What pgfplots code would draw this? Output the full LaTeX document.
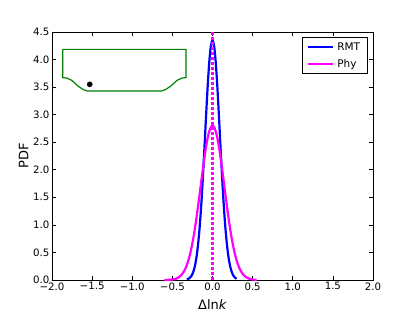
\documentclass[border=0pt]{standalone}
\usepackage{pgfplots}
\pgfplotsset{compat=1.18}
\usepackage{fontspec}
\setmainfont{DejaVu Sans}
\definecolor{mplgreen}{rgb}{0,0.5,0}
\definecolor{mplmag}{rgb}{1,0,1}
\definecolor{mplblue}{rgb}{0,0,1}
\begin{document}
\begin{tikzpicture}[x=1pt,y=1pt]
\path[use as bounding box] (-52,-32) rectangle (363,280);
\begin{axis}[
  at={(0,0)}, anchor=south west,
  scale only axis, width=321pt, height=248pt,
  xmin=-2, xmax=2, ymin=0, ymax=4.5,
  axis line style={line width=0.8pt},
  tick style={black, line width=0.6pt},
  major tick length=4pt,
  tick align=inside,
  xtick pos=both, ytick pos=both,
  xtick={-2,-1.5,-1,-0.5,0,0.5,1,1.5,2},
  xticklabels={−2.0,−1.5,−1.0,−0.5,0.0,0.5,1.0,1.5,2.0},
  ytick={0,0.5,1,1.5,2,2.5,3,3.5,4,4.5},
  yticklabels={0.0,0.5,1.0,1.5,2.0,2.5,3.0,3.5,4.0,4.5},
  ticklabel style={font=\fontsize{10.2}{12}\selectfont},
  xticklabel style={yshift=1pt},
  yticklabel style={xshift=1pt},
  xlabel={\fontsize{13}{15}\selectfont Δln\textit{k}},
  ylabel={\fontsize{13}{15}\selectfont PDF},
  xlabel style={at={(0.5,0)}, anchor=north, yshift=-16pt},
  ylabel style={at={(0,0.5)}, anchor=south, yshift=20pt},
  legend style={at={(1,1)}, anchor=north east, xshift=-5pt, yshift=-5pt,
    draw=black, line width=0.8pt, font=\fontsize{10.5}{12}\selectfont,
    inner xsep=4pt, inner ysep=3pt, row sep=3.5pt, rounded corners=0pt,
    nodes={inner xsep=3.5pt}},
  legend cell align=left,
  legend image code/.code={\draw[#1, line width=2.2pt] (0pt,0pt) -- (25pt,0pt);},
  clip=false,
]
\addplot[mplblue, line width=2.2pt, smooth] coordinates {
(-0.32,0.0103) (-0.30,0.0214) (-0.28,0.0424) (-0.26,0.0802) (-0.24,0.145) (-0.22,0.249)
(-0.20,0.409) (-0.18,0.642) (-0.16,0.959) (-0.14,1.367) (-0.12,1.858) (-0.10,2.410)
(-0.08,2.981) (-0.06,3.517) (-0.04,3.958) (-0.02,4.248) (0,4.35)
(0.02,4.248) (0.04,3.958) (0.06,3.517) (0.08,2.981) (0.10,2.410) (0.12,1.858)
(0.14,1.367) (0.16,0.959) (0.18,0.642) (0.20,0.409) (0.22,0.249) (0.24,0.145)
(0.26,0.0802) (0.28,0.0424) (0.30,0.0214)
};
\addlegendentry{RMT}
\addplot[mplmag, line width=2.2pt, smooth] coordinates {
(-0.60,0.0008) (-0.55,0.0028) (-0.50,0.0093) (-0.475,0.0162) (-0.45,0.0275) (-0.425,0.0454)
(-0.40,0.0726) (-0.375,0.113) (-0.35,0.171) (-0.325,0.251) (-0.30,0.359) (-0.275,0.498)
(-0.25,0.672) (-0.225,0.882) (-0.20,1.124) (-0.175,1.392) (-0.15,1.675) (-0.125,1.960)
(-0.10,2.229) (-0.075,2.463) (-0.05,2.645) (-0.025,2.760) (0,2.80)
(0.025,2.760) (0.05,2.645) (0.075,2.463) (0.10,2.229) (0.125,1.960) (0.15,1.675)
(0.175,1.392) (0.20,1.124) (0.225,0.882) (0.25,0.672) (0.275,0.498) (0.30,0.359)
(0.325,0.251) (0.35,0.171) (0.375,0.113) (0.40,0.0726) (0.425,0.0454) (0.45,0.0275)
(0.475,0.0162) (0.50,0.0093) (0.55,0.0028)
};
\addlegendentry{Phy}
\addplot[mplmag, line width=2.2pt, dash pattern=on 3pt off 2pt, forget plot] coordinates {(0,0) (0,4.5)};
\addplot[mplgreen, line width=1.2pt, forget plot] coordinates {
(-1.867,4.185) (-0.329,4.185) (-0.329,3.672) (-0.379,3.665) (-0.441,3.623) (-0.524,3.514)
(-0.586,3.455) (-0.636,3.429) (-1.560,3.429) (-1.610,3.455) (-1.672,3.514) (-1.754,3.623)
(-1.817,3.665) (-1.867,3.672) (-1.867,4.185)
};
\addplot[only marks, mark=*, mark size=2.6pt, black, forget plot] coordinates {(-1.53,3.55)};
\end{axis}
\end{tikzpicture}
\end{document}
